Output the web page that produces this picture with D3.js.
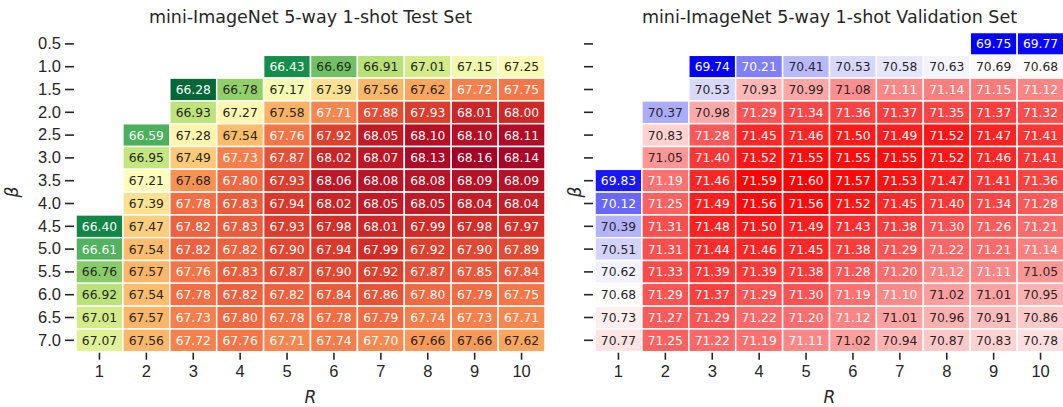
<!DOCTYPE html>
<html>
<head>
<meta charset="utf-8">
<script src="https://cdn.jsdelivr.net/npm/d3@7"></script>
<style>
  body { margin: 0; background: #fff; }
  svg { font-family: "DejaVu Sans", sans-serif; }
</style>
</head>
<body>
<div id="chart"></div>
<script>
// axis labels
var betaLabels = ["0.5", "1.0", "1.5", "2.0", "2.5", "3.0", "3.5", "4.0", "4.5", "5.0", "5.5", "6.0", "6.5", "7.0"];
var rLabels = ["1", "2", "3", "4", "5", "6", "7", "8", "9", "10"];

// test set accuracy, rows = beta, cols = R (null = not run)
var testAcc = [
  [null, null, null, null, null, null, null, null, null, null],
  [null, null, null, null, 66.43, 66.69, 66.91, 67.01, 67.15, 67.25],
  [null, null, 66.28, 66.78, 67.17, 67.39, 67.56, 67.62, 67.72, 67.75],
  [null, null, 66.93, 67.27, 67.58, 67.71, 67.88, 67.93, 68.01, 68.00],
  [null, 66.59, 67.28, 67.54, 67.76, 67.92, 68.05, 68.10, 68.10, 68.11],
  [null, 66.95, 67.49, 67.73, 67.87, 68.02, 68.07, 68.13, 68.16, 68.14],
  [null, 67.21, 67.68, 67.80, 67.93, 68.06, 68.08, 68.08, 68.09, 68.09],
  [null, 67.39, 67.78, 67.83, 67.94, 68.02, 68.05, 68.05, 68.04, 68.04],
  [66.40, 67.47, 67.82, 67.83, 67.93, 67.98, 68.01, 67.99, 67.98, 67.97],
  [66.61, 67.54, 67.82, 67.82, 67.90, 67.94, 67.99, 67.92, 67.90, 67.89],
  [66.76, 67.57, 67.76, 67.83, 67.87, 67.90, 67.92, 67.87, 67.85, 67.84],
  [66.92, 67.54, 67.78, 67.82, 67.82, 67.84, 67.86, 67.80, 67.79, 67.75],
  [67.01, 67.57, 67.73, 67.80, 67.78, 67.78, 67.79, 67.74, 67.73, 67.71],
  [67.07, 67.56, 67.72, 67.76, 67.71, 67.74, 67.70, 67.66, 67.66, 67.62]
];

// validation set accuracy
var valAcc = [
  [null, null, null, null, null, null, null, null, 69.75, 69.77],
  [null, null, 69.74, 70.21, 70.41, 70.53, 70.58, 70.63, 70.69, 70.68],
  [null, null, 70.53, 70.93, 70.99, 71.08, 71.11, 71.14, 71.15, 71.12],
  [null, 70.37, 70.98, 71.29, 71.34, 71.36, 71.37, 71.35, 71.37, 71.32],
  [null, 70.83, 71.28, 71.45, 71.46, 71.50, 71.49, 71.52, 71.47, 71.41],
  [null, 71.05, 71.40, 71.52, 71.55, 71.55, 71.55, 71.52, 71.46, 71.41],
  [69.83, 71.19, 71.46, 71.59, 71.60, 71.57, 71.53, 71.47, 71.41, 71.36],
  [70.12, 71.25, 71.49, 71.56, 71.56, 71.52, 71.45, 71.40, 71.34, 71.28],
  [70.39, 71.31, 71.48, 71.50, 71.49, 71.43, 71.38, 71.30, 71.26, 71.21],
  [70.51, 71.31, 71.44, 71.46, 71.45, 71.38, 71.29, 71.22, 71.21, 71.14],
  [70.62, 71.33, 71.39, 71.39, 71.38, 71.28, 71.20, 71.12, 71.11, 71.05],
  [70.68, 71.29, 71.37, 71.29, 71.30, 71.19, 71.10, 71.02, 71.01, 70.95],
  [70.73, 71.27, 71.29, 71.22, 71.20, 71.12, 71.01, 70.96, 70.91, 70.86],
  [70.77, 71.25, 71.22, 71.19, 71.11, 71.02, 70.94, 70.87, 70.83, 70.78]
];

// matplotlib RdYlGn, reversed so low = green
var rdYlGn = ["#a50026", "#d73027", "#f46d43", "#fdae61", "#fee08b", "#ffffbf",
              "#d9ef8b", "#a6d96a", "#66bd63", "#1a9850", "#006837"];
var bwr = ["#0000ff", "#ffffff", "#ff0000"];

var width = 1063, height = 407;
var topY = 32.5, cellH = 22.8, cellW = 46.9;
var ink = "#262626";

var svg = d3.select("#chart").append("svg")
    .attr("width", width)
    .attr("height", height);

function flat(m) {
    var out = [];
    m.forEach(function (row, i) {
        row.forEach(function (v, j) {
            if (v != null) out.push({ beta: betaLabels[i], r: rLabels[j], value: v });
        });
    });
    return out;
}

// seaborn picks dark or white text from the cell luminance
function textColor(c) {
    var rgb = d3.rgb(c);
    var lin = [rgb.r, rgb.g, rgb.b].map(function (v) {
        v = v / 255;
        return v <= 0.03928 ? v / 12.92 : Math.pow((v + 0.055) / 1.055, 2.4);
    });
    var lum = 0.2126 * lin[0] + 0.7152 * lin[1] + 0.0722 * lin[2];
    return lum > 0.408 ? ink : "#ffffff";
}

function heatmap(x0, data, colors, reverse, title, showY) {
    var cells = flat(data);
    var ext = d3.extent(cells, function (d) { return d.value; });
    var range = reverse ? colors.slice().reverse() : colors;
    var ramp = d3.scaleLinear()
        .domain(range.map(function (c, i) { return i / (range.length - 1); }))
        .range(range)
        .interpolate(d3.interpolateRgb);
    var norm = d3.scaleLinear().domain(ext).range([0, 1]).clamp(true);
    // 256-step lookup like matplotlib colormaps
    var color = function (v) {
        var idx = Math.min(Math.floor(norm(v) * 256), 255);
        return ramp(idx / 255);
    };

    var x = d3.scaleBand().domain(rLabels).range([x0, x0 + cellW * rLabels.length]);
    var y = d3.scaleBand().domain(betaLabels).range([topY, topY + cellH * betaLabels.length]);

    var g = svg.append("g");

    g.selectAll("rect")
        .data(cells)
        .enter()
        .append("rect")
        .attr("x", function (d) { return x(d.r); })
        .attr("y", function (d) { return y(d.beta); })
        .attr("width", x.bandwidth())
        .attr("height", y.bandwidth())
        .attr("fill", function (d) { return color(d.value); })
        .attr("stroke", "white")
        .attr("stroke-width", 1.5);

    g.selectAll("text.annot")
        .data(cells)
        .enter()
        .append("text")
        .attr("class", "annot")
        .attr("x", function (d) { return x(d.r) + x.bandwidth() / 2; })
        .attr("y", function (d) { return y(d.beta) + y.bandwidth() / 2; })
        .attr("dy", "0.36em")
        .attr("text-anchor", "middle")
        .style("font-size", "12.3px")
        .attr("fill", function (d) { return textColor(color(d.value)); })
        .text(function (d) { return d.value.toFixed(2); });

    var yAxis = d3.axisLeft(y).tickSize(9).tickPadding(4);
    if (!showY) yAxis.tickFormat("");
    var ya = g.append("g")
        .attr("transform", "translate(" + (x0 - 2) + ",0)")
        .call(yAxis);
    ya.select(".domain").remove();
    ya.selectAll("line").attr("stroke", ink).attr("stroke-width", 1.6);
    ya.selectAll("text").attr("fill", ink).style("font-size", "16.5px");

    var xa = g.append("g")
        .attr("transform", "translate(0," + (topY + cellH * betaLabels.length + 1) + ")")
        .call(d3.axisBottom(x).tickSize(7).tickPadding(6));
    xa.select(".domain").remove();
    xa.selectAll("line").attr("stroke", ink).attr("stroke-width", 1.6);
    xa.selectAll("text").attr("fill", ink).style("font-size", "16.5px");

    var cx = x0 + cellW * rLabels.length / 2;
    g.append("text")
        .attr("x", cx)
        .attr("y", 23)
        .attr("text-anchor", "middle")
        .attr("fill", ink)
        .style("font-size", "17.5px")
        .text(title);

    g.append("text")
        .attr("x", cx)
        .attr("y", 403)
        .attr("text-anchor", "middle")
        .attr("fill", ink)
        .style("font-size", "17px")
        .style("font-style", "italic")
        .text("R");

    g.append("text")
        .attr("transform", "translate(" + (x0 - (showY ? 58 : 14)) + "," + (topY + cellH * 7) + ") rotate(-90)")
        .attr("text-anchor", "middle")
        .attr("fill", ink)
        .style("font-size", "17px")
        .style("font-style", "italic")
        .text("β");
}

heatmap(76, testAcc, rdYlGn, true, "mini-ImageNet 5-way 1-shot Test Set", true);
heatmap(595, valAcc, bwr, false, "mini-ImageNet 5-way 1-shot Validation Set", false);
</script>
</body>
</html>
